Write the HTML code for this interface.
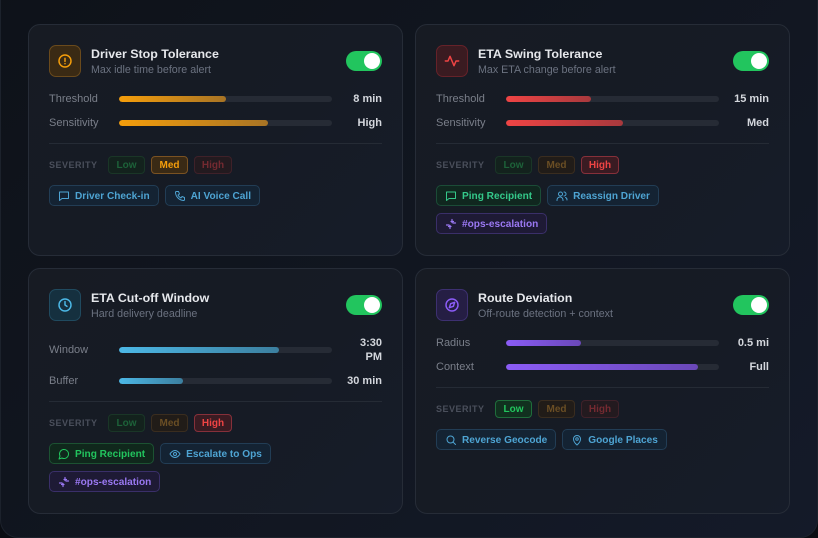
<!DOCTYPE html>
<html><head><meta charset="utf-8"><style>
*{box-sizing:border-box;margin:0;padding:0}
html,body{width:818px;height:538px;overflow:hidden;background:#0a0d13;font-family:"Liberation Sans",sans-serif}
.panel{position:absolute;left:0;top:-30px;width:818px;height:568px;border-radius:18px;border:1px solid #1c222c;background:linear-gradient(135deg,#0e1219 0%,#111620 50%,#141a29 100%)}
.card{position:absolute;width:375px;border:1px solid #262c37;border-radius:12px;background:linear-gradient(135deg,#171b23 0%,#161b25 60%,#161c29 100%);padding:20px}
.hdr{display:flex;align-items:center;height:32px}
.ic{width:32px;height:32px;border-radius:7px;border:1px solid;display:flex;align-items:center;justify-content:center;flex:none}
.tt{margin-left:10px;flex:1;padding-top:2px}
.t1{font-size:12.4px;font-weight:bold;color:#e6e8ec;line-height:15px}
.t2{font-size:10.7px;color:#6b7280;line-height:14px;margin-top:1px}
.tog{width:36px;height:20px;border-radius:10px;background:#22c55e;position:relative;flex:none}
.tog::after{content:"";position:absolute;right:2px;top:2px;width:16px;height:16px;border-radius:50%;background:#fff}
.rows{margin-top:15px}
.row{display:flex;align-items:center;margin-bottom:10px}
.row:last-child{margin-bottom:0}
.lb{width:70px;font-size:11px;color:#7a7f8a;line-height:14px;flex:none}
.bar{flex:1;height:6px;border-radius:3px;background:#262b35;position:relative;overflow:hidden}
.bar i{position:absolute;left:0;top:0;bottom:0;border-radius:3px}
.vl{width:40px;margin-left:10px;text-align:right;font-size:11px;font-weight:bold;color:#d4d7dd;line-height:14px;flex:none}
.div{height:1px;background:#252b35;margin-top:13px}
.sev{display:flex;align-items:center;margin-top:12px;height:18px}
.sl{font-size:9px;font-weight:bold;letter-spacing:0.5px;color:#4a4f5b;margin-right:10px;width:49px}
.sc{height:18px;border-radius:4px;border:1px solid;font-size:10px;font-weight:bold;display:flex;align-items:center;justify-content:center;margin-right:6px}
.lo{width:37px;background:#13221d;border-color:#1a3627;color:#1d6239}
.me{width:37px;background:#211c18;border-color:#3a2d1f;color:#6a4e24}
.hi{width:38px;background:#231a1f;border-color:#3f2129;color:#742a31}
.lo.on{background:#11301f;border-color:#1f6d3b;color:#22c55e}
.me.on{background:#3a2a15;border-color:#7a5222;color:#f59e0b}
.hi.on{background:#3a1b22;border-color:#86303a;color:#ef4444}
.acts{display:flex;flex-wrap:wrap;gap:7px 6px;margin-top:11px}
.ac{height:21px;border-radius:5px;border:1px solid;padding:0 8px;display:flex;align-items:center;font-size:10.1px;font-weight:bold;line-height:12px}
.ac span{padding-top:3px}
.ac svg{width:12px;height:12px;margin-right:5px;flex:none}
.bl{background:#142333;border-color:#223d55;color:#4ea4d3}
.gr{background:#10281c;border-color:#1c5232;color:#22c55e}
.gr2{background:#10271f;border-color:#1b4c37;color:#34c98a}
.pu{background:#1e1a35;border-color:#3a2f69;color:#9a78f2}
</style></head><body>
<div class="panel"></div>

<!-- Card 1 -->
<div class="card" style="left:28px;top:24px;height:232px">
  <div class="hdr">
    <div class="ic" style="background:#3a2a14;border-color:#6a4a1c"><svg width="16" height="16" viewBox="0 0 24 24" fill="none" stroke="#f59e0b" stroke-width="2.2" stroke-linecap="round"><circle cx="12" cy="12" r="9"/><line x1="12" y1="8" x2="12" y2="12.5"/><line x1="12" y1="16" x2="12" y2="16.2"/></svg></div>
    <div class="tt"><div class="t1">Driver Stop Tolerance</div><div class="t2">Max idle time before alert</div></div>
    <div class="tog"></div>
  </div>
  <div class="rows">
    <div class="row"><div class="lb">Threshold</div><div class="bar"><i style="width:50%;background:linear-gradient(90deg,#f59e0b,#a87425)"></i></div><div class="vl">8 min</div></div>
    <div class="row"><div class="lb">Sensitivity</div><div class="bar"><i style="width:70%;background:linear-gradient(90deg,#f59e0b,#a87425)"></i></div><div class="vl">High</div></div>
  </div>
  <div class="div"></div>
  <div class="sev"><div class="sl">SEVERITY</div><div class="sc lo">Low</div><div class="sc me on">Med</div><div class="sc hi">High</div></div>
  <div class="acts">
    <div class="ac bl"><svg viewBox="0 0 24 24" fill="none" stroke="currentColor" stroke-width="2" stroke-linejoin="round"><path d="M3 4h18v13H8l-5 4z"/></svg><span>Driver Check-in</span></div>
    <div class="ac bl"><svg viewBox="0 0 24 24" fill="none" stroke="currentColor" stroke-width="2" stroke-linejoin="round"><path d="M5 3h4l2 5-3 2a12 12 0 0 0 6 6l2-3 5 2v4a2 2 0 0 1-2 2A17 17 0 0 1 3 5a2 2 0 0 1 2-2z"/></svg><span>AI Voice Call</span></div>
  </div>
</div>

<!-- Card 2 -->
<div class="card" style="left:415px;top:24px;height:232px">
  <div class="hdr">
    <div class="ic" style="background:#3a1b21;border-color:#662229"><svg width="16" height="16" viewBox="0 0 24 24" fill="none" stroke="#ef4444" stroke-width="2.2" stroke-linecap="round" stroke-linejoin="round"><polyline points="2 12 6 12 9 5 15 19 18 12 22 12"/></svg></div>
    <div class="tt"><div class="t1">ETA Swing Tolerance</div><div class="t2">Max ETA change before alert</div></div>
    <div class="tog"></div>
  </div>
  <div class="rows">
    <div class="row"><div class="lb">Threshold</div><div class="bar"><i style="width:40%;background:linear-gradient(90deg,#ef4444,#a8393d)"></i></div><div class="vl">15 min</div></div>
    <div class="row"><div class="lb">Sensitivity</div><div class="bar"><i style="width:55%;background:linear-gradient(90deg,#ef4444,#a8393d)"></i></div><div class="vl">Med</div></div>
  </div>
  <div class="div"></div>
  <div class="sev"><div class="sl">SEVERITY</div><div class="sc lo">Low</div><div class="sc me">Med</div><div class="sc hi on">High</div></div>
  <div class="acts">
    <div class="ac gr2"><svg viewBox="0 0 24 24" fill="none" stroke="currentColor" stroke-width="2" stroke-linejoin="round"><path d="M3 4h18v13H8l-5 4z"/></svg><span>Ping Recipient</span></div>
    <div class="ac bl"><svg viewBox="0 0 24 24" fill="none" stroke="currentColor" stroke-width="2" stroke-linecap="round"><circle cx="9" cy="8" r="4"/><path d="M2 21v-1a6 6 0 0 1 12 0v1"/><path d="M16 4a4 4 0 0 1 0 8M19 15a5 5 0 0 1 3 5"/></svg><span>Reassign Driver</span></div>
    <div class="ac pu"><svg viewBox="0 0 24 24" fill="none" stroke="currentColor" stroke-width="2.4" stroke-linecap="round"><path d="M14 3v6M17 7h-5M10 21v-6M7 17h5M3 14h5M21 10h-5"/></svg><span>#ops-escalation</span></div>
  </div>
</div>

<!-- Card 3 -->
<div class="card" style="left:28px;top:268px;height:246px">
  <div class="hdr">
    <div class="ic" style="background:#15303f;border-color:#204a5f"><svg width="16" height="16" viewBox="0 0 24 24" fill="none" stroke="#4cb8e6" stroke-width="2.2" stroke-linecap="round"><circle cx="12" cy="12" r="9"/><polyline points="12 7 12 12 15 14"/></svg></div>
    <div class="tt"><div class="t1">ETA Cut-off Window</div><div class="t2">Hard delivery deadline</div></div>
    <div class="tog"></div>
  </div>
  <div class="rows">
    <div class="row"><div class="lb">Window</div><div class="bar"><i style="width:75%;background:linear-gradient(90deg,#4cb8e6,#3c7f9f)"></i></div><div class="vl">3:30<br>PM</div></div>
    <div class="row"><div class="lb">Buffer</div><div class="bar"><i style="width:30%;background:linear-gradient(90deg,#4cb8e6,#3c7f9f)"></i></div><div class="vl">30 min</div></div>
  </div>
  <div class="div"></div>
  <div class="sev"><div class="sl">SEVERITY</div><div class="sc lo">Low</div><div class="sc me">Med</div><div class="sc hi on">High</div></div>
  <div class="acts">
    <div class="ac gr"><svg viewBox="0 0 24 24" fill="none" stroke="currentColor" stroke-width="2" stroke-linejoin="round"><path d="M7.9 20A9 9 0 1 0 4 16.1L2 22z"/></svg><span>Ping Recipient</span></div>
    <div class="ac bl"><svg viewBox="0 0 24 24" fill="none" stroke="currentColor" stroke-width="2"><path d="M2 12s4-7 10-7 10 7 10 7-4 7-10 7S2 12 2 12z"/><circle cx="12" cy="12" r="3"/></svg><span>Escalate to Ops</span></div>
    <div class="ac pu"><svg viewBox="0 0 24 24" fill="none" stroke="currentColor" stroke-width="2.4" stroke-linecap="round"><path d="M14 3v6M17 7h-5M10 21v-6M7 17h5M3 14h5M21 10h-5"/></svg><span>#ops-escalation</span></div>
  </div>
</div>

<!-- Card 4 -->
<div class="card" style="left:415px;top:268px;height:246px">
  <div class="hdr">
    <div class="ic" style="background:#251e44;border-color:#3d3070"><svg width="16" height="16" viewBox="0 0 24 24" fill="none" stroke="#8b5cf6" stroke-width="2.2" stroke-linejoin="round"><circle cx="12" cy="12" r="9"/><polygon points="16 8 14 14 8 16 10 10"/></svg></div>
    <div class="tt"><div class="t1">Route Deviation</div><div class="t2">Off-route detection + context</div></div>
    <div class="tog"></div>
  </div>
  <div class="rows">
    <div class="row"><div class="lb">Radius</div><div class="bar"><i style="width:35%;background:linear-gradient(90deg,#8b5cf6,#6a48b8)"></i></div><div class="vl">0.5 mi</div></div>
    <div class="row"><div class="lb">Context</div><div class="bar"><i style="width:90%;background:linear-gradient(90deg,#8b5cf6,#6a48b8)"></i></div><div class="vl">Full</div></div>
  </div>
  <div class="div"></div>
  <div class="sev"><div class="sl">SEVERITY</div><div class="sc lo on">Low</div><div class="sc me">Med</div><div class="sc hi">High</div></div>
  <div class="acts">
    <div class="ac bl"><svg viewBox="0 0 24 24" fill="none" stroke="currentColor" stroke-width="2" stroke-linecap="round"><circle cx="11" cy="11" r="7"/><line x1="16" y1="16" x2="21" y2="21"/></svg><span>Reverse Geocode</span></div>
    <div class="ac bl"><svg viewBox="0 0 24 24" fill="none" stroke="currentColor" stroke-width="2"><path d="M12 22s7-6 7-12a7 7 0 0 0-14 0c0 6 7 12 7 12z"/><circle cx="12" cy="10" r="2.5"/></svg><span>Google Places</span></div>
  </div>
</div>
</body></html>
